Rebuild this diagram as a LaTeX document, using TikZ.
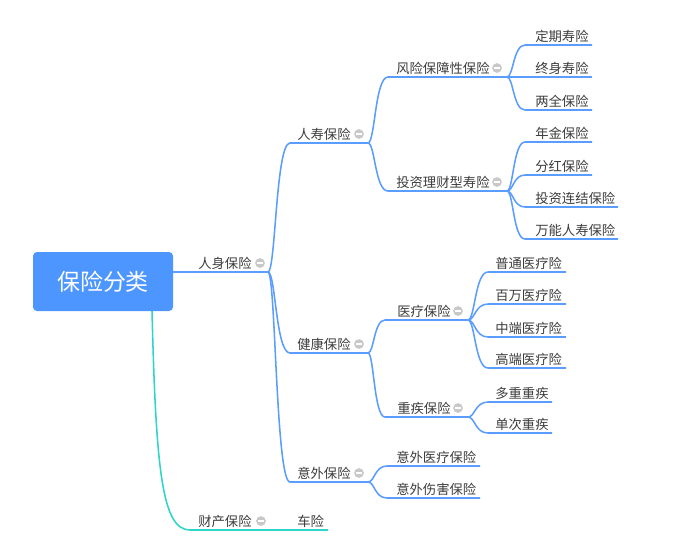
\documentclass[tikz,border=0pt]{standalone}
\usepackage{fontspec}
\setmainfont{Noto Sans CJK SC}
\usetikzlibrary{calc}
\definecolor{boxblue}{RGB}{77,150,255}
\definecolor{lineblue}{RGB}{90,156,255}
\definecolor{lineteal}{RGB}{45,212,200}
\definecolor{txt}{RGB}{60,60,60}
\definecolor{circ}{RGB}{200,200,200}
\newcommand{\mtopic}[6]{%
  \coordinate (#1-s) at (#3,#5);
  \coordinate (#1-e) at (#4,#5);
  \node[topic] (#1) at (#2,#5-3.7) {#6};}
\newcommand{\mcollapse}[3]{\node[collapse] (#1-c) at (#2,#3) {};}
\begin{document}
\begin{tikzpicture}[x=0.75pt,y=-0.75pt,
  topic/.style={anchor=base west,inner sep=0pt,font=\fontsize{10}{12}\selectfont,text=txt},
  rootbox/.style={fill=boxblue,rounded corners=3pt,minimum width=105pt,minimum height=44.25pt,inner sep=0pt,text=white,font=\fontsize{17.2}{20}\selectfont},
  blueline/.style={draw=lineblue,line width=1.15pt},
  tealline/.style={draw=lineteal,line width=1.15pt},
  collapse/.style={circle,fill=circ,minimum size=7.3pt,inner sep=0pt,
    path picture={\draw[white,line width=1.1pt] ([xshift=-2.2pt]path picture bounding box.center) -- ([xshift=2.2pt]path picture bounding box.center);}},
  branch/.style={to path={let \p1=(\tikztostart), \p2=(\tikztotarget) in
    .. controls ({\x1+0.35*(\x2-\x1)},\y1) and ({\x1+0.35*(\x2-\x1)},\y2) .. (\tikztotarget)}}]
\useasboundingbox (0,0) rectangle (698,551);
\node[rootbox] (root) at (103,281.5) {保险分类};
% level 1
\mtopic{renshen}{198}{173}{268}{272}{人身保险}
\mtopic{caichan}{198}{190}{270}{530}{财产保险}
% level 2
\mtopic{renshou}{297}{290}{368}{143}{人寿保险}
\mtopic{jiankang}{297}{290}{368}{353}{健康保险}
\mtopic{yiwai}{297}{290}{368}{482}{意外保险}
\mtopic{chexian}{297}{290}{328}{530}{车险}
% level 3
\mtopic{fengxian}{396}{388}{507}{77}{风险保障性保险}
\mtopic{touzi}{396}{388}{507}{191}{投资理财型寿险}
\mtopic{yiliao}{397}{385}{468}{320}{医疗保险}
\mtopic{zhongji}{397}{385}{468}{417}{重疾保险}
\mtopic{yiwaiyl}{396}{387}{480}{466}{意外医疗保险}
\mtopic{yiwaish}{396}{387}{480}{498}{意外伤害保险}
% level 4
\mtopic{dingqi}{535}{525}{592}{45}{定期寿险}
\mtopic{zhongshen}{535}{525}{592}{77}{终身寿险}
\mtopic{liangquan}{535}{525}{592}{110}{两全保险}
\mtopic{nianjin}{535}{525}{592}{142}{年金保险}
\mtopic{fenhong}{535}{525}{592}{175}{分红保险}
\mtopic{touzilian}{535}{525}{618}{207}{投资连结保险}
\mtopic{wanneng}{535}{525}{618}{239}{万能人寿保险}
\mtopic{putong}{495}{488}{566}{272}{普通医疗险}
\mtopic{baiwan}{495}{488}{566}{304}{百万医疗险}
\mtopic{zhongduan}{495}{488}{566}{337}{中端医疗险}
\mtopic{gaoduan}{495}{488}{566}{368}{高端医疗险}
\mtopic{duozhong}{495}{488}{552}{402}{多重重疾}
\mtopic{danci}{495}{488}{552}{433}{单次重疾}
% collapse markers
\mcollapse{renshen}{260}{263}
\mcollapse{caichan}{261}{521}
\mcollapse{renshou}{359}{134}
\mcollapse{jiankang}{359}{344}
\mcollapse{yiwai}{359}{473}
\mcollapse{fengxian}{497}{68}
\mcollapse{touzi}{497}{182}
\mcollapse{yiliao}{458}{311}
\mcollapse{zhongji}{458}{408}
% connectors
\draw[blueline] (root.east|-renshen-e) -- (renshen-e);
\coordinate (rootbot) at (152,311);
\draw[tealline] (rootbot) .. controls (156,470) and (162,530) .. (caichan-s) -- (caichan-e) -- (chexian-s) -- (chexian-e);
\foreach \p/\c in {renshen/renshou,renshen/jiankang,renshen/yiwai,
  renshou/fengxian,renshou/touzi,
  fengxian/dingqi,fengxian/zhongshen,fengxian/liangquan,
  touzi/nianjin,touzi/fenhong,touzi/touzilian,touzi/wanneng,
  jiankang/yiliao,jiankang/zhongji,
  yiliao/putong,yiliao/baiwan,yiliao/zhongduan,yiliao/gaoduan,
  zhongji/duozhong,zhongji/danci,
  yiwai/yiwaiyl,yiwai/yiwaish}
  \draw[blueline] (\p-e) to[branch] (\c-s) -- (\c-e);
\end{tikzpicture}
\end{document}
